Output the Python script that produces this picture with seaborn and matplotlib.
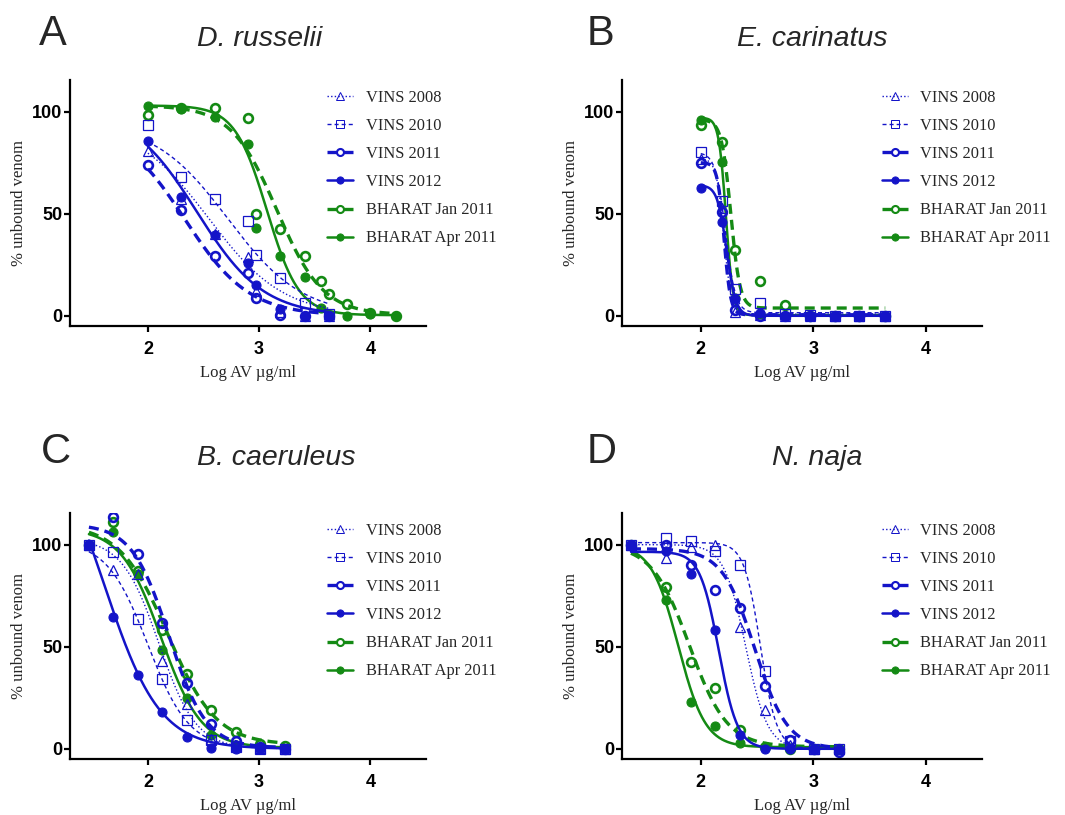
import numpy as np
import matplotlib
matplotlib.use("Agg")
import matplotlib.pyplot as plt
from matplotlib.lines import Line2D
import seaborn as sns

sns.set_theme(style="ticks")
plt.rcParams["font.family"] = ["Liberation Sans", "DejaVu Sans"]

BLUE = "#1414c8"
GREEN = "#148a14"
TEXT_GRAY = "#262626"

series = ["VINS 2008", "VINS 2010", "VINS 2011", "VINS 2012", "BHARAT Jan 2011", "BHARAT Apr 2011"]

# --- A: D. russelii ---
a_x_vins = [2.0, 2.3, 2.6, 2.9, 2.97, 3.19, 3.41, 3.63]
a_x_bharat = [2.0, 2.3, 2.6, 2.9, 2.97, 3.19, 3.41, 3.56, 3.63, 3.79, 4.0, 4.23]
a_vins2008 = [80.6, 57, 40, 28.6, 12, 2, 0, 0]
a_vins2010 = [93.5, 67.8, 57.4, 46.6, 29.6, 18.5, 6.2, 1]
a_vins2011 = [73.7, 51.6, 29.1, 20.9, 8.7, 0.5, 0, 0]
a_vins2012 = [85.8, 58.2, 39.7, 25.8, 14.9, 3.3, 0, 0]
a_bharat_jan = [98.5, 101.8, 101.8, 96.9, 49.8, 42.5, 29.1, 16.8, 10.8, 5.9, 1.3, 0]
a_bharat_apr = [102.9, 101.3, 97.4, 84.3, 42.8, 29.4, 19, 3.8, 0.5, 0, 0.8, 0]
# fitted sigmoid parameters (top, bottom, logIC50, hill) per series
a_top = [95, 95, 95, 102, 103, 103]
a_bottom = [0, 0, 0, 0, 0.5, 0.3]
a_logic50 = [2.55, 2.72, 2.33, 2.44, 3.16, 3.07]
a_hill = [1.3, 1.3, 1.5, 1.45, 2.1, 3.0]

# --- B: E. carinatus ---
b_x = [2.0, 2.185, 2.30, 2.53, 2.75, 2.97, 3.19, 3.41, 3.64]
b_vins2008 = [77, 53, 2, 0.5, 0, 0, 0, 0, 0]
b_vins2010 = [80.1, 56, 13, 6.5, 1, 0.5, 0, 0, 0]
b_vins2011 = [75, 51, 3, 0, 0, 0, 0, 0, 0]
b_vins2012 = [62.8, 46, 8, 1.5, 0, 0, 0, 0, 0]
b_bharat_jan = [93.5, 85.3, 32.3, 16.8, 5.4, 0, 0, 0, 0]
b_bharat_apr = [96, 75.2, 8.6, 1, 0, 0, 0, 0, 0]
b_top = [77, 80, 75, 64, 96, 97]
b_bottom = [0.8, 1.5, 0.5, 0, 3.8, 0.3]
b_logic50 = [2.205, 2.22, 2.207, 2.23, 2.267, 2.224]
b_hill = [13, 9.8, 14.9, 10.6, 10.6, 13.7]

# --- C: B. caeruleus ---
c_x = [1.47, 1.69, 1.91, 2.13, 2.35, 2.57, 2.79, 3.01, 3.23]
c_vins2008 = [100, 87.7, 85.5, 43, 22, 5, 2, 0.5, 0]
c_vins2010 = [100, 96.5, 63.5, 34, 14, 4.5, 1, 0, 0]
c_vins2011 = [100, 113.5, 95.3, 61.5, 32, 12.3, 4, 1, 0]
c_vins2012 = [100, 64.5, 36, 18, 5.6, 0.5, 0, 0, 0]
c_bharat_jan = [100, 111, 87, 58, 36.5, 19, 8, 2.5, 1.5]
c_bharat_apr = [100, 106.2, 85.8, 48.5, 25, 7, 2, 1, 0]
c_top = [103, 102, 110, 160, 110, 108]
c_bottom = [0, 0, 0.5, 0, 2, 0.5]
c_logic50 = [2.10, 2.0, 2.19, 1.61, 2.18, 2.12]
c_hill = [2.6, 2.35, 2.6, 1.75, 2.0, 2.4]

# --- D: N. naja ---
d_x = [1.38, 1.69, 1.91, 2.13, 2.35, 2.57, 2.79, 3.01, 3.23]
d_vins2008 = [100, 93.5, 98.9, 100, 59.6, 18.8, 2, 0, 0]
d_vins2010 = [100, 103.4, 102, 96.7, 89.9, 38, 4, 0, 0]
d_vins2011 = [100, 99.7, 89.9, 77.6, 69, 30.7, 4.1, 0, -1.6]
d_vins2012 = [100, 97, 85.5, 58, 7, 0, 0, 0, 0]
d_bharat_jan = [100, 79.2, 42.5, 29.9, 9, 1, 0, 0, 0]
d_bharat_apr = [100, 72.7, 22.9, 11.4, 2.8, 1, 0.5, 0, 0]
d_top = [100, 101, 98, 96.5, 100, 100]
d_bottom = [0, 0, 0, 0, 1, 0.8]
d_logic50 = [2.40, 2.53, 2.48, 2.16, 1.90, 1.80]
d_hill = [4.5, 6.0, 3.0, 5.2, 2.6, 3.6]

panels = [
    ("A", "D. russelii", [a_x_vins] * 4 + [a_x_bharat] * 2,
     [a_vins2008, a_vins2010, a_vins2011, a_vins2012, a_bharat_jan, a_bharat_apr],
     a_top, a_bottom, a_logic50, a_hill),
    ("B", "E. carinatus", [b_x] * 6,
     [b_vins2008, b_vins2010, b_vins2011, b_vins2012, b_bharat_jan, b_bharat_apr],
     b_top, b_bottom, b_logic50, b_hill),
    ("C", "B. caeruleus", [c_x] * 6,
     [c_vins2008, c_vins2010, c_vins2011, c_vins2012, c_bharat_jan, c_bharat_apr],
     c_top, c_bottom, c_logic50, c_hill),
    ("D", "N. naja", [d_x] * 6,
     [d_vins2008, d_vins2010, d_vins2011, d_vins2012, d_bharat_jan, d_bharat_apr],
     d_top, d_bottom, d_logic50, d_hill),
]

# line / marker look of each series
styles = [
    dict(color=BLUE, ls=(0, (1, 1.6)), lw=1.0, marker="^", ms=6.5, mfc="none", mew=0.9),
    dict(color=BLUE, ls=(0, (2.9, 2.2)), lw=1.0, marker="s", ms=7, mfc="none", mew=0.9),
    dict(color=BLUE, ls=(0, (3, 1.8)), lw=2.4, marker="o", ms=6.3, mfc="none", mew=1.9),
    dict(color=BLUE, ls="-", lw=1.8, marker="o", ms=6.5, mfc=BLUE, mew=0.8),
    dict(color=GREEN, ls=(0, (3, 1.8)), lw=2.4, marker="o", ms=6.3, mfc="none", mew=1.9),
    dict(color=GREEN, ls="-", lw=1.8, marker="o", ms=6.5, mfc=GREEN, mew=0.8),
]

# axes boxes in pixels (left, top, right, bottom) of the 1065x815 figure
W, H = 1065, 815
boxes = [(70, 80, 426, 326), (622, 80, 982, 326), (70, 513, 426, 759), (622, 513, 982, 759)]
letter_pos = [(39, 45), (587, 45), (41, 463), (587, 463)]
title_pos = [(197, 46), (737, 46), (197, 465), (772, 465)]

fig = plt.figure(figsize=(W / 100, H / 100), dpi=100)

for i, (letter, title, xs_list, ys_list, tops, bots, ics, hills) in enumerate(panels):
    l, t, r, b = boxes[i]
    ax = fig.add_axes([l / W, 1 - b / H, (r - l) / W, (b - t) / H])

    order = [5, 4, 0, 1, 2, 3]  # greens underneath, blues on top
    for k in order:
        st = styles[k]
        xs = np.asarray(xs_list[k], dtype=float)
        xx = np.linspace(xs.min(), xs.max(), 400)
        yy = bots[k] + (tops[k] - bots[k]) / (1 + 10 ** (hills[k] * (xx - ics[k])))
        sns.lineplot(x=xx, y=yy, ax=ax, color=st["color"], linestyle=st["ls"],
                     linewidth=st["lw"], estimator=None, errorbar=None, legend=False)
        sns.lineplot(x=xs, y=ys_list[k], ax=ax, linestyle="none", marker=st["marker"],
                     markersize=st["ms"], markerfacecolor=st["mfc"],
                     markeredgecolor=st["color"], markeredgewidth=st["mew"],
                     color=st["color"], estimator=None, errorbar=None, legend=False)

    ax.set_xlim(1.3, 4.5)
    ax.set_ylim(-5, 115.5)
    ax.set_xticks([2, 3, 4])
    ax.set_yticks([0, 50, 100])
    sns.despine(ax=ax)
    for sp in ["left", "bottom"]:
        ax.spines[sp].set_linewidth(1.6)
        ax.spines[sp].set_color("black")
    ax.tick_params(axis="both", length=4, width=1.6, color="black", labelsize=13)
    ax.tick_params(axis="x", pad=6.5)
    ax.tick_params(axis="y", pad=1.5)
    for lab in ax.get_xticklabels() + ax.get_yticklabels():
        lab.set_fontweight("bold")
        lab.set_color("black")

    ax.set_xlabel("Log AV µg/ml", fontfamily="Liberation Serif", fontsize=12, color=TEXT_GRAY)
    ax.set_ylabel("% unbound venom", fontfamily="Liberation Serif", fontsize=12, color=TEXT_GRAY)
    ax.xaxis.set_label_coords(0.5, -0.158)
    ax.yaxis.set_label_coords(-0.12, 0.5)

    handles = [Line2D([], [], color=st["color"], linestyle=st["ls"], linewidth=st["lw"],
                      marker=st["marker"], markersize=st["ms"] * 0.8, markerfacecolor=st["mfc"],
                      markeredgecolor=st["color"], markeredgewidth=st["mew"] * 0.8)
               for st in styles]
    ax.legend(handles, series, loc="upper left", bbox_to_anchor=(0.722, 0.96),
              frameon=False, prop=dict(family="Liberation Serif", size=11.8),
              labelcolor=TEXT_GRAY, handlelength=1.6, handletextpad=0.75,
              labelspacing=0.74, borderaxespad=0, borderpad=0)

    lx, ly = letter_pos[i]
    fig.text(lx / W, 1 - ly / H, letter, fontsize=30, va="baseline", ha="left")
    tx, ty = title_pos[i]
    fig.text(tx / W, 1 - ty / H, title, fontsize=20.5, style="italic", va="baseline", ha="left")

fig.savefig("out.png", dpi=100)
